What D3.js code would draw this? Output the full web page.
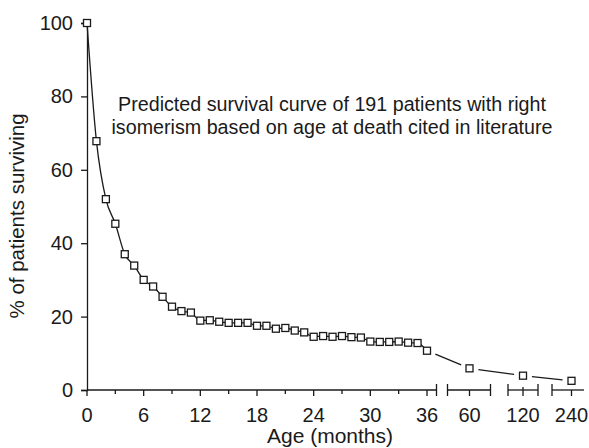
<!DOCTYPE html>
<html>
<head>
<meta charset="utf-8">
<script src="https://cdn.jsdelivr.net/npm/d3@7"></script>
<style>
    body { margin: 0; background: #fff; }
    svg text { font-family: "Liberation Sans", Arial, Helvetica, sans-serif; fill: #1a1a1a; }
</style>
</head>
<body>
<div id="chart"></div>
<script>
// Age at which survival was read (months); the axis is broken after 36
const ageMonths = [0, 1, 2, 3, 4, 5, 6, 7, 8, 9, 10, 11, 12, 13, 14, 15, 16, 17, 18,
    19, 20, 21, 22, 23, 24, 25, 26, 27, 28, 29, 30, 31, 32, 33, 34, 35, 36, 60, 120, 240];
// % of patients surviving
const survivalPct = [100, 67.8, 52.0, 45.3, 37.0, 33.9, 30.0, 28.2, 25.4, 22.7, 21.5, 21.1,
    18.9, 19.0, 18.6, 18.3, 18.3, 18.3, 17.5, 17.5, 16.7, 16.9, 16.2, 15.7, 14.5, 14.7,
    14.5, 14.7, 14.4, 14.3, 13.2, 13.1, 13.1, 13.2, 12.9, 12.8, 10.7, 5.9, 3.9, 2.5];

const yTicks = [0, 20, 40, 60, 80, 100];
const xMajorTicks = [0, 6, 12, 18, 24, 30, 36];
const xMinorTicks = [3, 9, 15, 21, 27, 33];
const xBreakTicks = [60, 120, 240];
const annotationLines = [
    'Predicted survival curve of 191 patients with right',
    'isomerism based on age at death cited in literature'
];

const width = 589, height = 448;
const ink = '#1a1a1a';

const svg = d3.select('#chart')
    .append('svg')
    .attr('width', width)
    .attr('height', height);

// Piecewise scale: linear 0-36, then one slot each for 60, 120, 240
const x = d3.scaleLinear()
    .domain([0, 36, 60, 120, 240])
    .range([87, 427, 469.5, 523, 571.5]);

const y = d3.scaleLinear()
    .domain([0, 100])
    .range([390, 23]);

const points = ageMonths.map((m, i) => ({ m, v: survivalPct[i] }));
const early = points.filter(d => d.m <= 36);
const late = points.filter(d => d.m >= 36);

// Y axis
const yAxis = svg.append('g')
    .attr('transform', `translate(${x(0)},0)`)
    .call(d3.axisLeft(y).tickValues(yTicks).tickSize(6).tickPadding(8));
yAxis.select('.domain').attr('stroke', ink).attr('stroke-width', 1.3);
yAxis.selectAll('.tick line').attr('stroke', ink).attr('stroke-width', 1.3);
yAxis.selectAll('.tick text')
    .style('font-size', '20px')
    .attr('fill', ink);

// X axis segments (broken)
const xg = svg.append('g').attr('class', 'x-axis');
const axisY = y(0);
const segments = [
    { from: x(0), to: x(36) + 9.5, capLeft: false, capRight: true },
    { from: x(60) - 22, to: x(60) + 21, capLeft: true, capRight: true },
    { from: x(120) - 15, to: x(120) + 15, capLeft: true, capRight: true },
    { from: x(240) - 19.5, to: x(240) + 12.5, capLeft: true, capRight: false }
];
segments.forEach(s => {
    xg.append('line')
        .attr('x1', s.from).attr('x2', s.to)
        .attr('y1', axisY).attr('y2', axisY)
        .attr('stroke', ink).attr('stroke-width', 1.3);
    if (s.capLeft) {
        xg.append('line')
            .attr('x1', s.from).attr('x2', s.from)
            .attr('y1', axisY - 6).attr('y2', axisY + 6)
            .attr('stroke', ink).attr('stroke-width', 1.3);
    }
    if (s.capRight) {
        xg.append('line')
            .attr('x1', s.to).attr('x2', s.to)
            .attr('y1', axisY - 6).attr('y2', axisY + 6)
            .attr('stroke', ink).attr('stroke-width', 1.3);
    }
});

xg.selectAll('.major')
    .data(xMajorTicks.concat(xBreakTicks))
    .join('line')
    .attr('class', 'major')
    .attr('x1', d => x(d)).attr('x2', d => x(d))
    .attr('y1', d => d === 120 ? axisY - 3 : axisY)
    .attr('y2', axisY + 6)
    .attr('stroke', ink).attr('stroke-width', 1.3);

xg.selectAll('.minor')
    .data(xMinorTicks)
    .join('line')
    .attr('class', 'minor')
    .attr('x1', d => x(d)).attr('x2', d => x(d))
    .attr('y1', axisY).attr('y2', axisY + 4)
    .attr('stroke', ink).attr('stroke-width', 1.3);

xg.selectAll('.tick-label')
    .data(xMajorTicks.concat(xBreakTicks))
    .join('text')
    .attr('class', 'tick-label')
    .attr('x', d => x(d))
    .attr('y', axisY + 32)
    .attr('text-anchor', 'middle')
    .style('font-size', '20px')
    .text(d => d);

// Axis titles
svg.append('text')
    .attr('x', 330)
    .attr('y', 443)
    .attr('text-anchor', 'middle')
    .style('font-size', '21px')
    .text('Age (months)');

svg.append('text')
    .attr('transform', 'translate(24,216) rotate(-90)')
    .attr('text-anchor', 'middle')
    .style('font-size', '20.5px')
    .text('% of patients surviving');

// Curve for the first 36 months
const line = d3.line()
    .x(d => x(d.m))
    .y(d => y(d.v))
    .curve(d3.curveMonotoneX);

svg.append('path')
    .datum(early)
    .attr('fill', 'none')
    .attr('stroke', ink)
    .attr('stroke-width', 1.3)
    .attr('d', line);

// Connectors across the breaks, with gaps near the markers
const gap = 9;
d3.pairs(late).forEach(([a, b]) => {
    const x1 = x(a.m), y1 = y(a.v), x2 = x(b.m), y2 = y(b.v);
    const len = Math.hypot(x2 - x1, y2 - y1);
    const ux = (x2 - x1) / len, uy = (y2 - y1) / len;
    svg.append('line')
        .attr('x1', x1 + ux * gap).attr('y1', y1 + uy * gap)
        .attr('x2', x2 - ux * gap).attr('y2', y2 - uy * gap)
        .attr('stroke', ink).attr('stroke-width', 1.3);
});

// Square markers
const size = 7;
svg.selectAll('.marker')
    .data(points)
    .join('rect')
    .attr('class', 'marker')
    .attr('x', d => x(d.m) - size / 2)
    .attr('y', d => y(d.v) - size / 2)
    .attr('width', size)
    .attr('height', size)
    .attr('fill', '#fff')
    .attr('stroke', ink)
    .attr('stroke-width', 1.3);

// Annotation
svg.append('text')
    .attr('text-anchor', 'middle')
    .style('font-size', '19.7px')
    .selectAll('tspan')
    .data(annotationLines)
    .join('tspan')
    .attr('x', 332)
    .attr('y', (d, i) => 111 + i * 23)
    .text(d => d);
</script>
</body>
</html>
